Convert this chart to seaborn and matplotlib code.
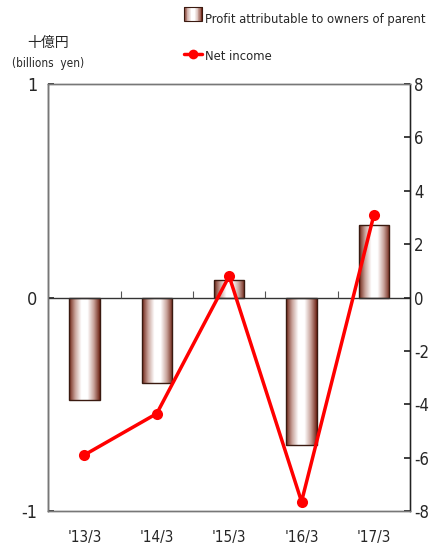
import numpy as np
import pandas as pd
import seaborn as sns
import matplotlib.pyplot as plt
from matplotlib.colors import LinearSegmentedColormap
from matplotlib.legend_handler import HandlerBase
from matplotlib.lines import Line2D
from matplotlib.patches import Rectangle

# data
periods = ["'13/3", "'14/3", "'15/3", "'16/3", "'17/3"]
profit_parent = [-0.48, -0.40, 0.08, -0.69, 0.34]   # left axis, billions yen
net_income = [-5.9, -4.35, 0.8, -7.65, 3.1]          # right axis

sns.set_theme(style="white")
plt.rcParams['font.family'] = ['DejaVu Sans', 'Noto Sans CJK JP']
plt.rcParams['font.stretch'] = 'condensed'

grad = LinearSegmentedColormap.from_list(
    "bar", ["#6e2214", "#c9a49c", "#ffffff", "#ffffff", "#c9a49c", "#6e2214"])
gimg = np.linspace(0, 1, 256).reshape(1, -1)

fig = plt.figure(figsize=(4.34, 5.53), dpi=100)
ax = fig.add_axes([0.111, 0.076, 0.834, 0.772])

df = pd.DataFrame({"period": periods, "profit": profit_parent})
sns.barplot(data=df, x="period", y="profit", ax=ax, width=0.42,
            color="white", edgecolor="#3a1a10", linewidth=1.0)

# horizontal gradient inside each bar
for p in ax.patches:
    x0, y0 = p.get_x(), p.get_y()
    w, h = p.get_width(), p.get_height()
    im = ax.imshow(gimg, cmap=grad, aspect="auto", zorder=p.get_zorder() - 0.1,
                   extent=[x0, x0 + w, min(y0, y0 + h), max(y0, y0 + h)])
    im.set_clip_path(p)
    p.set_facecolor("none")

ax.set_xlim(-0.5, len(periods) - 0.5)
ax.set_ylim(-1, 1)
ax.set_yticks([-1, 0, 1])
ax.set_yticklabels(["-1", "0", "1"])
ax.axhline(0, color="#333333", lw=1.0, zorder=1)
ax.vlines(np.arange(len(periods) - 1) + 0.5, 0, 0.03, color="#555555", lw=0.8)
ax.set_xlabel("")
ax.set_ylabel("")
ax.tick_params(axis="x", length=0, pad=14, labelsize=11)
ax.tick_params(axis="y", direction="in", length=4, left=True, labelsize=13, pad=8)

ax2 = ax.twinx()
sns.lineplot(x=np.arange(len(periods)), y=net_income, ax=ax2, color="#ff0000",
             lw=2.5, marker="o", markersize=8, markeredgewidth=0)
ax2.set_ylim(-8, 8)
ax2.set_yticks(np.arange(-8, 9, 2))
ax2.set_yticklabels([str(v) for v in range(-8, 9, 2)])
ax2.tick_params(axis="y", direction="in", length=4, right=True, labelsize=12, pad=3)

for a in (ax, ax2):
    for s in a.spines.values():
        s.set_color("#777777")
        s.set_linewidth(1.0)
ax.spines["left"].set_color("#222222")
ax2.spines["right"].set_color("#222222")

fig.text(0.11, 0.922, "十億円", ha="center", va="center", fontsize=10,
         family=['Noto Sans CJK JP', 'DejaVu Sans'])
fig.text(0.11, 0.885, "(billions  yen)", ha="center", va="center", fontsize=8.5)


class GradHandler(HandlerBase):
    # gradient swatch built from thin strips
    def create_artists(self, legend, orig, xd, yd, width, height, fontsize, trans):
        n = 24
        out = []
        for i in range(n):
            out.append(Rectangle((xd + width * i / n, yd), width / n + 0.3, height,
                                 facecolor=grad((i + 0.5) / n), edgecolor="none",
                                 transform=trans))
        out.append(Rectangle((xd, yd), width, height, facecolor="none",
                             edgecolor="#3a1a10", lw=0.8, transform=trans))
        return out


bar_handle = Rectangle((0, 0), 1, 1)
line_handle = Line2D([], [], color="#ff0000", lw=2.5, marker="o", markersize=7,
                     markeredgewidth=0)
fig.legend([bar_handle, line_handle],
           ["Profit attributable to owners of parent", "Net income"],
           handler_map={Rectangle: GradHandler()},
           loc="upper left", bbox_to_anchor=(0.408, 0.99), frameon=False, borderpad=0,
           fontsize=9.3, handlelength=1.45, handleheight=1.25, handletextpad=0.2,
           labelspacing=1.75)

fig.savefig("out.png", dpi=100)
